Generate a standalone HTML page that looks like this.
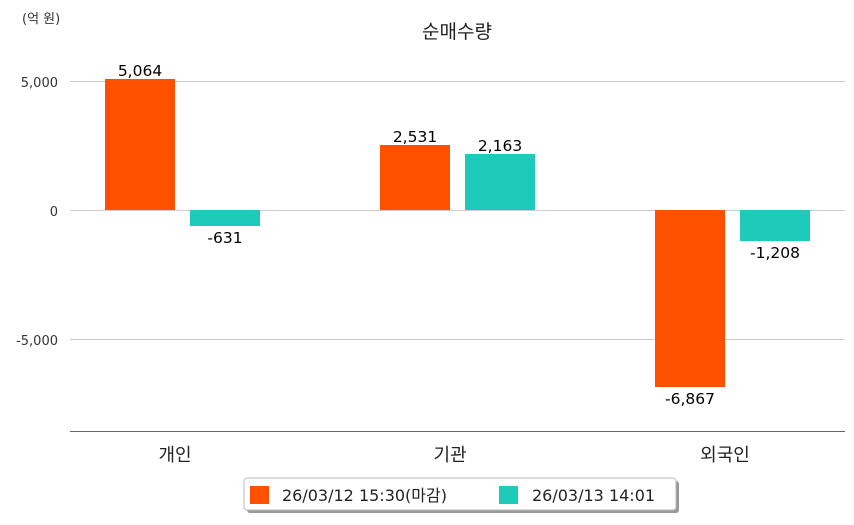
<!DOCTYPE html>
<html><head><meta charset="utf-8"><style>
body{margin:0;background:#fff;}
svg text{font-family:"DejaVu Sans","Noto Sans CJK KR",sans-serif;}
</style></head><body>
<svg width="854" height="520" viewBox="0 0 854 520" xmlns="http://www.w3.org/2000/svg">
<rect width="854" height="520" fill="#fff"/>
<text x="22" y="23" font-size="13" fill="#333">(억 원)</text>
<text x="457" y="38" font-size="19" text-anchor="middle" fill="#222">순매수량</text>
<g stroke="#ccc" stroke-width="1">
<line x1="70" y1="81.5" x2="845" y2="81.5"/>
<line x1="70" y1="210.5" x2="845" y2="210.5"/>
<line x1="70" y1="339.5" x2="845" y2="339.5"/>
</g>
<line x1="70" y1="431.5" x2="845" y2="431.5" stroke="#666" stroke-width="1"/>
<g font-size="13" fill="#333" text-anchor="end">
<text x="58" y="87">5,000</text>
<text x="58" y="216">0</text>
<text x="58" y="345">-5,000</text>
</g>
<g fill="#ff5000">
<rect x="105" y="79" width="70" height="131"/>
<rect x="380" y="145" width="70" height="65"/>
<rect x="655" y="210" width="70" height="177"/>
</g>
<g fill="#1ecbbb">
<rect x="190" y="210" width="70" height="16"/>
<rect x="465" y="154" width="70" height="56"/>
<rect x="740" y="210" width="70" height="31"/>
</g>
<g font-size="15.5" fill="#000" text-anchor="middle">
<text x="140" y="76">5,064</text>
<text x="225" y="243">-631</text>
<text x="415" y="142">2,531</text>
<text x="500" y="151">2,163</text>
<text x="690" y="404">-6,867</text>
<text x="775" y="258">-1,208</text>
</g>
<g font-size="18" fill="#222" text-anchor="middle">
<text x="175" y="461">개인</text>
<text x="450" y="461">기관</text>
<text x="725" y="461">외국인</text>
</g>
<rect x="247" y="481" width="432" height="32" rx="3" fill="#999"/>
<rect x="244" y="478" width="432" height="32" rx="3" fill="#fff" stroke="#bbb"/>
<rect x="250" y="486" width="19" height="18" fill="#ff5000"/>
<text x="282" y="501" font-size="16" fill="#222">26/03/12 15:30(마감)</text>
<rect x="499" y="486" width="19" height="18" fill="#1ecbbb"/>
<text x="532" y="501" font-size="16" fill="#222">26/03/13 14:01</text>
</svg>
</body></html>
